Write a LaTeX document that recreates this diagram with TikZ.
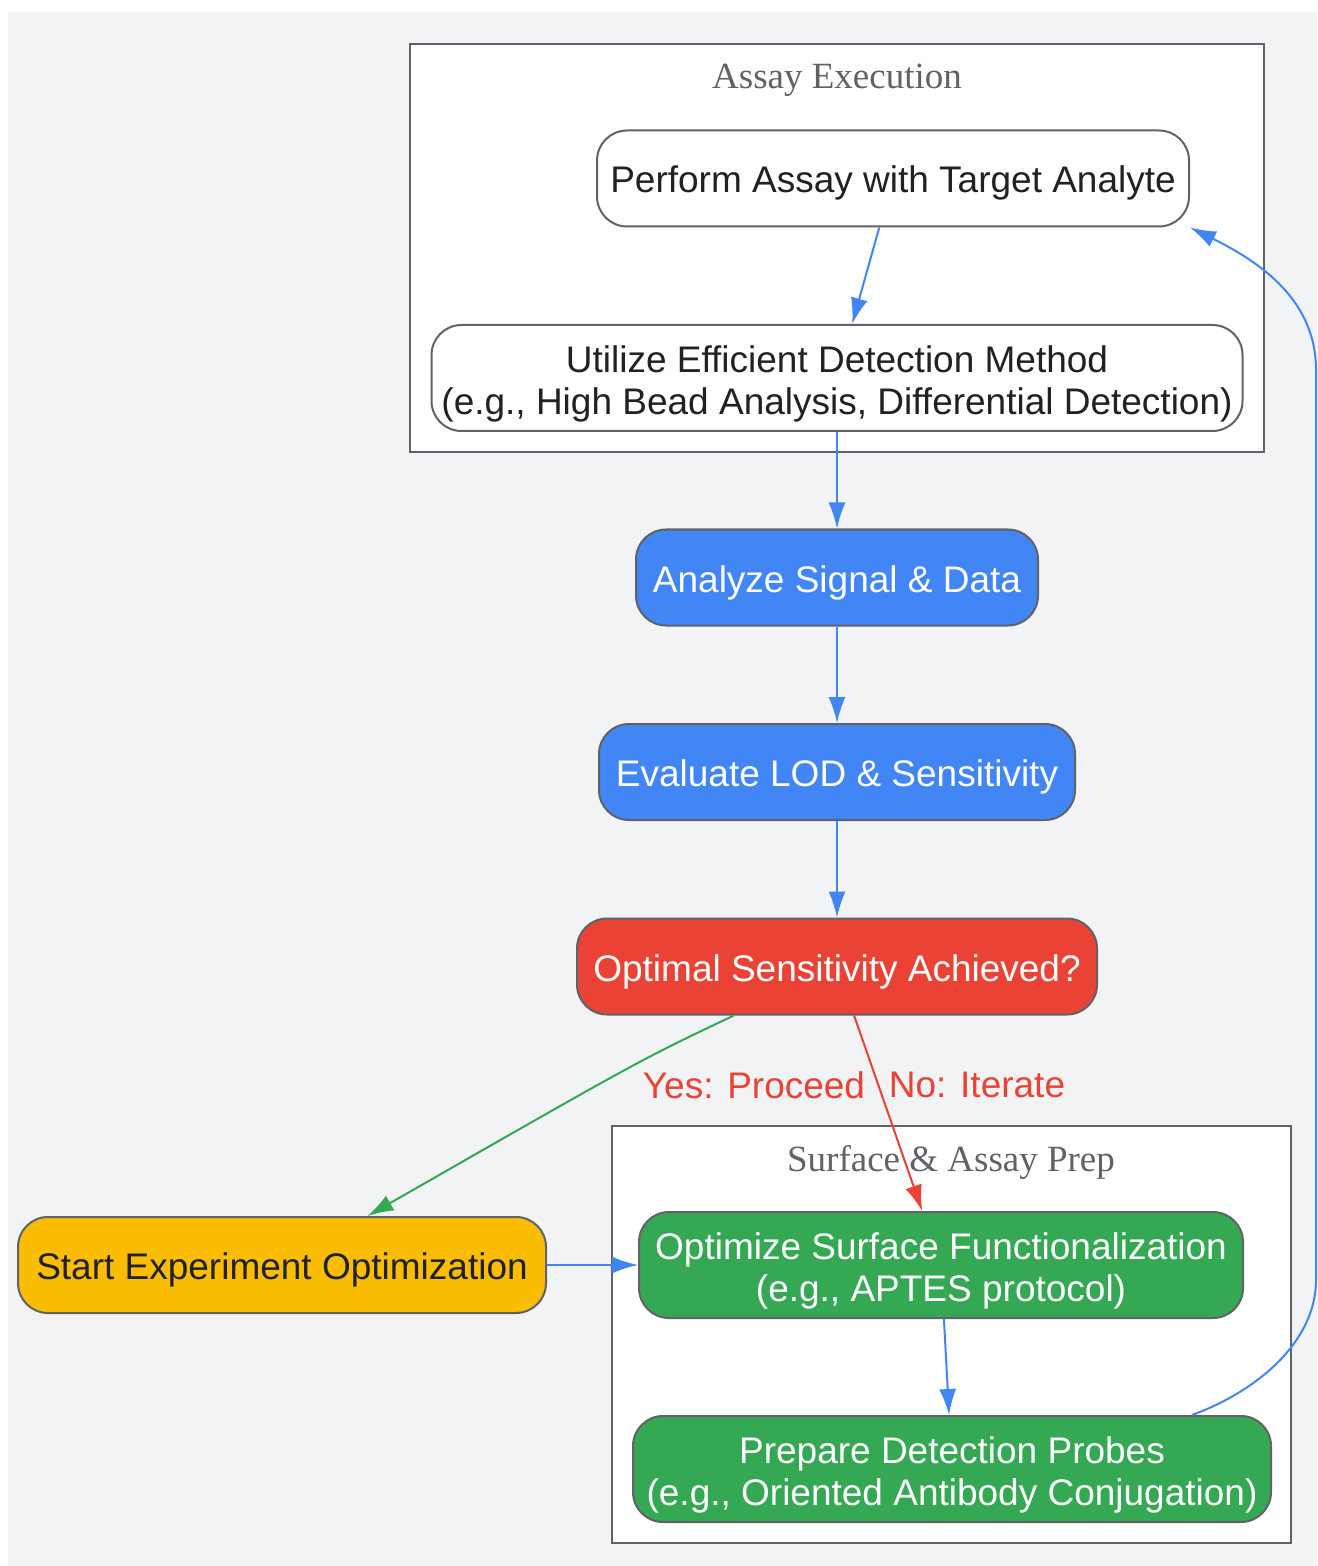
\documentclass[tikz,border=0pt]{standalone}
\usepackage{fontspec}
\setmainfont{Liberation Sans}
\newfontfamily\titlefont{Liberation Serif}
\usetikzlibrary{arrows.meta}

\definecolor{bggray}{HTML}{F1F3F4}
\definecolor{linegray}{HTML}{5F6368}
\definecolor{darktext}{HTML}{202124}
\definecolor{flowblue}{HTML}{4285F4}
\definecolor{nored}{HTML}{EA4335}
\definecolor{yesgreen}{HTML}{34A853}
\definecolor{startyellow}{HTML}{FBBC04}

\tikzset{
	box/.style = {draw = linegray, line width = 1pt, rounded corners = 15pt, align = center, minimum height = 48pt, inner sep = 0pt, text height = 18.5pt, text depth = 4pt, text = darktext, font = \fontsize{18.5}{21}\selectfont},
	tall/.style = {minimum height = 53pt, text height = 40.5pt, text depth = 4pt},
	flow/.style = {draw = flowblue, line width = 1pt, -{Latex[length = 13pt, width = 8.5pt]}},
	cluster/.style = {draw = linegray, line width = 1pt, fill = white},
	ctitle/.style = {text = linegray, font = \titlefont\fontsize{18.5}{22}\selectfont},
	lbl/.style = {text = nored, font = \fontsize{18.5}{21}\selectfont}
}

\begin{document}
\begin{tikzpicture}[x = .5pt, y = -.5pt]
	\useasboundingbox (0,0) rectangle (1317,1566);
	\fill [bggray] (8,12) rectangle (1317,1566);
	\draw [cluster] (410,44) rectangle (1264,452);
	\node [ctitle] (exectitle) at (837,80) {Assay Execution};
	\draw [cluster] (612,1126) rectangle (1291,1543);
	\node [ctitle] (preptitle) at (951,1162) {Surface \& Assay Prep};
	\node [box, fill = white, minimum width = 296pt] (perform) at (893,178.5) {Perform Assay with Target Analyte};
	\node [box, tall, fill = white, minimum width = 405.5pt] (utilize) at (837,378) {Utilize Efficient Detection Method\\(e.g., High Bead Analysis, Differential Detection)};
	\node [box, fill = flowblue, text = white, minimum width = 201pt] (analyze) at (837,577.5) {Analyze Signal \& Data};
	\node [box, fill = flowblue, text = white, minimum width = 238pt] (evaluate) at (837,772) {Evaluate LOD \& Sensitivity};
	\node [box, fill = nored, text = white, minimum width = 260pt] (optimal) at (837,966.5) {Optimal Sensitivity Achieved?};
	\node [box, fill = startyellow, minimum width = 264pt] (start) at (282,1265) {Start Experiment Optimization};
	\node [box, tall, fill = yesgreen, text = white, minimum width = 302pt] (optimize) at (941,1265) {Optimize Surface Functionalization\\(e.g., APTES protocol)};
	\node [box, tall, fill = yesgreen, text = white, minimum width = 319pt] (prepare) at (952,1469) {Prepare Detection Probes\\(e.g., Oriented Antibody Conjugation)};
	\node [lbl] (yes) at (754,1085) {Yes: Proceed};
	\node [lbl] (no) at (977,1085) {No: Iterate};
	\draw [flow] (perform) -- (utilize);
	\draw [flow] (utilize) -- (analyze);
	\draw [flow] (analyze) -- (evaluate);
	\draw [flow] (evaluate) -- (optimal);
	\draw [flow, draw = yesgreen] (optimal) .. controls (640,1060) .. (start);
	\draw [flow, draw = nored] (optimal) -- (optimize);
	\draw [flow] (start) -- (optimize);
	\draw [flow] (optimize) -- (prepare);
	\draw [flow] ([xshift = 120pt]prepare.north) .. controls (1260,1390) and (1316,1340) .. (1316,1280) -- (1316,370) .. controls (1316,300) and (1260,262) .. (perform.south east);
\end{tikzpicture}
\end{document}
